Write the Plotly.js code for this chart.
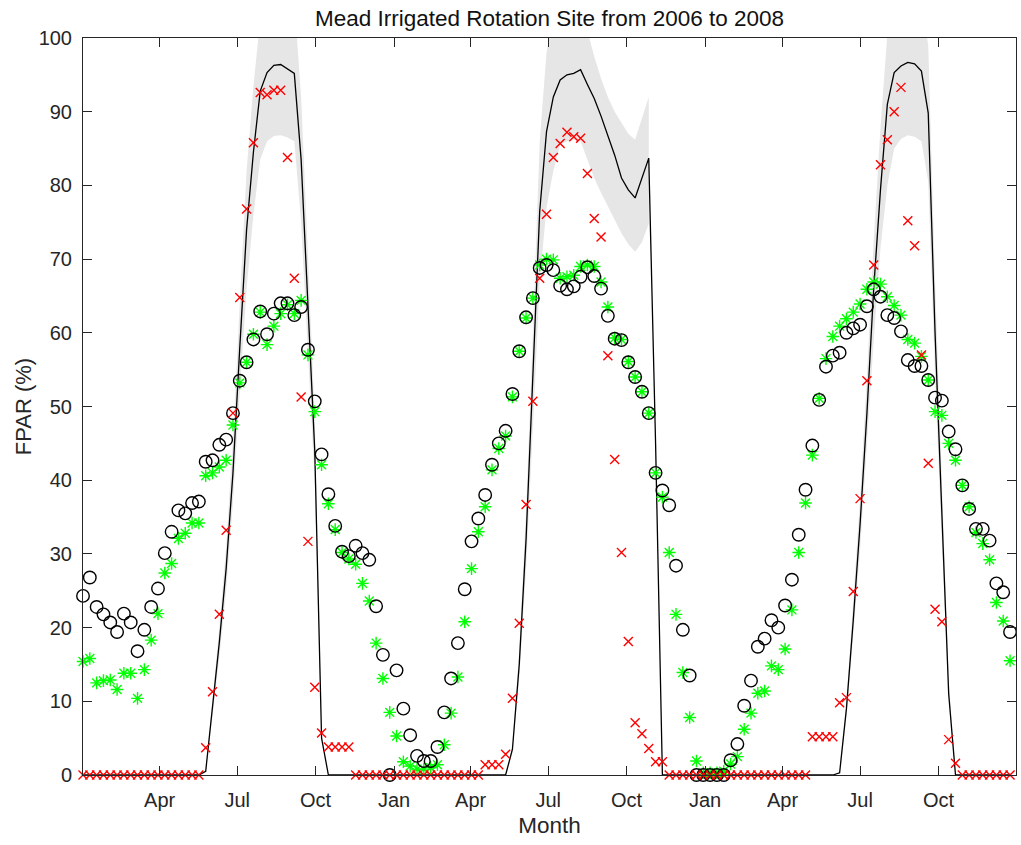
<!DOCTYPE html>
<html><head><meta charset="utf-8">
<script src="https://cdn.plot.ly/plotly-3.0.1.min.js"></script>
<style>html,body{margin:0;padding:0;background:#fff}#chart{width:1021px;height:845px}</style>
</head><body><div id="chart"></div>
<script>
// 8-day composites starting 2006-01-01
const firstComposite = '2006-01-01';
const compositeStepDays = 8;

// Black open circles
const fparCircles = [
  24.3, 26.8, 22.8, 21.8, 20.7, 19.4, 21.9, 20.7, 16.8, 19.7, 22.8, 25.3, 30.1, 33.0, 35.9, 35.5,
  36.9, 37.1, 42.5, 42.7, 44.8, 45.5, 49.1, 53.5, 56.0, 59.1, 62.9, 59.8, 62.6, 64.0, 64.0, 62.4,
  63.5, 57.7, 50.7, 43.5, 38.1, 33.8, 30.3, 29.7, 31.1, 30.1, 29.2, 22.9, 16.3, 0,
  14.2, 9.0, 5.4, 2.6, 1.9, 1.9, 3.8, 8.5, 13.1, 17.9, 25.2, 31.7, 34.8, 38.0, 42.1, 45.0,
  46.7, 51.7, 57.5, 62.1, 64.7, 68.8, 69.2, 68.5, 66.4, 65.9, 66.3, 67.6, 68.9, 67.7, 66.0, 62.3,
  59.2, 59.0, 56.0, 54.0, 52.0, 49.1, 41.0, 38.6, 36.6, 28.4, 19.7, 13.5, 0, 0,
  0, 0, 0, 2.0, 4.2, 9.4, 12.8, 17.4, 18.5, 21.0, 20.0, 23.0, 26.5, 32.6, 38.7, 44.7,
  50.9, 55.4, 56.9, 57.3, 60.0, 60.6, 61.1, 63.6, 65.9, 64.9, 62.4, 62.0, 60.2, 56.3, 55.5, 55.5,
  53.6, 51.2, 50.8, 46.6, 44.2, 39.3, 36.1, 33.4, 33.4, 31.8, 26.0, 24.8, 19.4
];

// Green asterisks
const fparGreen = [
  15.4, 15.8, 12.5, 12.8, 12.9, 11.6, 13.8, 13.8, 10.4, 14.3, 18.3, 21.9, 27.4, 28.7, 32.1, 32.8,
  34.2, 34.2, 40.6, 41.0, 41.8, 42.7, 47.5, 53.2, 56.0, 59.8, 62.8, 58.4, 60.9, 62.6, 63.8, 62.6,
  64.4, 57.0, 49.3, 42.1, 36.8, 33.3, 30.2, 29.3, 28.6, 26.0, 23.6, 17.9, 13.1, 8.5,
  5.3, 1.8, 1.2, 0.8, 0.8, 1.0, 1.4, 4.1, 8.4, 13.3, 20.8, 28.0, 33.0, 36.4, 41.4, 44.3,
  46.0, 51.3, 57.5, 62.0, 64.7, 69.2, 70.0, 69.9, 67.4, 67.6, 67.8, 69.0, 69.2, 69.0, 66.9, 63.5,
  59.3, 59.1, 56.1, 54.0, 52.0, 49.1, 41.0, 37.7, 30.2, 21.8, 13.9, 7.8, 1.9, 0.3,
  0.3, 0.3, 0.5, 1.5, 2.5, 6.2, 8.4, 11.1, 11.4, 14.8, 14.3, 17.1, 22.4, 30.2, 36.9, 43.4,
  51.1, 56.5, 59.5, 60.9, 61.9, 62.8, 63.9, 65.9, 66.9, 66.6, 64.9, 63.7, 62.4, 59.1, 58.6, 56.8,
  53.6, 49.3, 48.8, 45.0, 42.7, 39.3, 36.4, 32.9, 31.4, 29.2, 23.4, 20.9, 15.5
];

// Red crosses
const fparRed = [
  0, 0, 0, 0, 0, 0, 0, 0, 0, 0, 0, 0, 0, 0, 0, 0,
  0, 0, 3.7, 11.3, 21.8, 33.2, 49.1, 64.8, 76.8, 85.8, 92.6, 92.3, 92.9, 92.9, 83.8, 67.4,
  51.3, 31.7, 11.9, 5.7, 3.8, 3.8, 3.8, 3.8, 0, 0, 0, 0, 0, 0,
  0, 0, 0, 0, 0, 0, 0, 0, 0, 0, 0, 0, 0, 1.4, 1.4, 1.4,
  2.8, 10.4, 20.6, 36.7, 50.7, 67.4, 76.1, 83.8, 85.7, 87.2, 86.6, 86.4, 81.6, 75.5, 73.0, 56.9,
  42.8, 30.2, 18.1, 7.1, 5.6, 3.6, 1.8, 1.8, 0, 0, 0, 0, 0, 0,
  0, 0, 0, 0, 0, 0, 0, 0, 0, 0, 0, 0, 0, 0, 0, 5.2,
  5.2, 5.2, 5.2, 9.8, 10.5, 24.9, 37.5, 53.5, 69.2, 82.8, 86.2, 90.0, 93.3, 75.2, 71.8, 57.0,
  42.3, 22.5, 20.8, 4.8, 1.6, 0, 0, 0, 0, 0, 0, 0, 0
];

// Black line (model) and its shaded band
const fparModel = [
  0, 0, 0, 0, 0, 0, 0, 0, 0, 0, 0, 0, 0, 0, 0, 0,
  0, 0, 0.5, 9, 18, 28, 41, 58, 74, 84.5, 92.8, 95.3, 96.3, 96.4, 95.8, 95.2,
  83.5, 64, 44, 5, 0, 0, 0, 0, 0, 0, 0, 0, 0, 0,
  0, 0, 0, 0, 0, 0, 0, 0, 0, 0, 0, 0, 0, 0, 0, 0,
  0, 3.5, 15, 32, 53.5, 76.5, 87.3, 92, 94.3, 95, 95.2, 95.7, 93.7, 91.8, 89.4, 86.7,
  84.1, 81, 79.4, 78.3, 81, 83.7, 45, 0, 0, 0, 0, 0, 0, 0,
  0, 0, 0, 0, 0, 0, 0, 0, 0, 0, 0, 0, 0, 0, 0, 0,
  0, 0, 0, 0.3, 9, 21, 34, 49, 66, 79.5, 91, 95.3, 96.2, 96.7, 96.5, 95.5,
  89.8, 60, 35, 11, 0, 0, 0, 0, 0, 0, 0, 0, 0
];
const N = null;
const bandUpper = [
  N, N, N, N, N, N, N, N, N, N, N, N, N, N, N, N,
  N, N, 0.5, 10, 20, 31, 45.5, 64, 82, 93.5, 102.5, 105.3, 106.3, 106.4, 105.8, 105,
  92, 70.5, 48.5, 5.5, N, N, N, N, N, N, N, N, N, N,
  N, N, N, N, N, N, N, N, N, N, N, N, N, N, N, N,
  0, 4, 17, 36, 60, 86, 98, 103, 104, 105, 105, 105, 101, 97.5, 94.5, 92,
  90, 88.5, 87, 86.2, 89, 92, N, N, N, N, N, N, N, N,
  N, N, N, N, N, N, N, N, N, N, N, N, N, N, N, N,
  N, N, 0, 0.4, 10, 23.5, 37.5, 54, 72.5, 88, 100.5, 105, 106, 106.4, 106, 105,
  99, 67, 39.5, 13, 0, N, N, N, N, N, N, N, N
];
const bandLower = [
  N, N, N, N, N, N, N, N, N, N, N, N, N, N, N, N,
  N, N, 0.5, 8, 16, 25, 37, 52, 66, 76, 83.5, 86, 86.7, 86.8, 86.5, 86,
  75, 57.5, 39.5, 4.5, N, N, N, N, N, N, N, N, N, N,
  N, N, N, N, N, N, N, N, N, N, N, N, N, N, N, N,
  0, 3, 13, 28, 47, 67, 77, 82, 85.5, 86, 86.2, 86, 83.5, 81, 79, 77.2,
  75.3, 73.5, 72, 71, 72.3, 74.8, N, N, N, N, N, N, N, N,
  N, N, N, N, N, N, N, N, N, N, N, N, N, N, N, N,
  N, N, 0, 0.2, 8, 19, 30.5, 44, 59, 71.5, 80, 85, 86.3, 86.8, 86.6, 86,
  80.5, 54, 31.5, 10.5, 0, N, N, N, N, N, N, N, N
];

const tickDates = ['2006-04-01','2006-07-01','2006-10-01','2007-01-01','2007-04-01','2007-07-01',
                   '2007-10-01','2008-01-01','2008-04-01','2008-07-01','2008-10-01'];
const tickLabels = ['Apr','Jul','Oct','Jan','Apr','Jul','Oct','Jan','Apr','Jul','Oct'];

function compositeDate(i) {
  const d = new Date(firstComposite + 'T00:00:00Z');
  d.setUTCDate(d.getUTCDate() + compositeStepDays * i);
  return d.toISOString().slice(0, 10);
}
const dates = fparCircles.map((_, i) => compositeDate(i));

// Build one closed polygon per contiguous band segment
const bandX = [], bandY = [];
let i = 0;
while (i < dates.length) {
  if (bandUpper[i] === null) { i++; continue; }
  let j = i;
  while (j < dates.length && bandUpper[j] !== null) j++;
  for (let k = i; k < j; k++) { bandX.push(dates[k]); bandY.push(bandUpper[k]); }
  for (let k = j - 1; k >= i; k--) { bandX.push(dates[k]); bandY.push(bandLower[k]); }
  bandX.push(null); bandY.push(null);
  i = j;
}

const traces = [
  { x: bandX, y: bandY, type: 'scatter', mode: 'lines', fill: 'toself',
    fillcolor: '#e6e6e6', line: { width: 0, color: 'rgba(0,0,0,0)' }, hoverinfo: 'skip' },
  { x: dates, y: fparModel, type: 'scatter', mode: 'lines',
    line: { color: '#000', width: 1.3 } },
  { x: dates, y: fparGreen, type: 'scatter', mode: 'markers', cliponaxis: false,
    marker: { symbol: 'asterisk-open', size: 10.5, color: '#00ff00', line: { width: 1.4, color: '#00ff00' } } },
  { x: dates, y: fparCircles, type: 'scatter', mode: 'markers', cliponaxis: false,
    marker: { symbol: 'circle-open', size: 12.5, color: '#000', line: { width: 1.4, color: '#000' } } },
  { x: dates, y: fparRed, type: 'scatter', mode: 'markers', cliponaxis: false,
    marker: { symbol: 'x-thin-open', size: 9, color: '#ff0000', line: { width: 1.4, color: '#ff0000' } } }
];

const axisCommon = {
  ticks: 'inside', ticklen: 9, tickwidth: 1, tickcolor: '#262626',
  showline: true, linecolor: '#262626', linewidth: 1, mirror: 'allticks',
  showgrid: false, zeroline: false, tickfont: { size: 20, color: '#262626' }
};

const layout = {
  width: 1021, height: 845,
  margin: { l: 83, r: 5, t: 38, b: 70 },
  paper_bgcolor: '#fff', plot_bgcolor: '#fff', showlegend: false,
  font: { family: '"Liberation Sans", Arial, Helvetica, sans-serif', color: '#262626', size: 20 },
  title: { text: 'Mead Irrigated Rotation Site from 2006 to 2008',
           font: { size: 22.5, color: '#111' }, x: 0.5, xref: 'paper', xanchor: 'center',
           y: 1 - 18 / 845, yref: 'container', yanchor: 'middle' },
  xaxis: Object.assign({}, axisCommon, {
    type: 'date', range: ['2006-01-01', '2008-12-31'],
    tickmode: 'array', tickvals: tickDates, ticktext: tickLabels,
    ticklabelstandoff: 7,
    title: { text: 'Month', font: { size: 22.5, color: '#262626' }, standoff: 7 }
  }),
  yaxis: Object.assign({}, axisCommon, {
    range: [0, 100], tick0: 0, dtick: 10, ticklabelstandoff: 6,
    title: { text: 'FPAR (%)', font: { size: 22, color: '#262626' }, standoff: 0 }
  })
};

Plotly.newPlot('chart', traces, layout, { displayModeBar: false, staticPlot: true });
</script>
</body></html>
